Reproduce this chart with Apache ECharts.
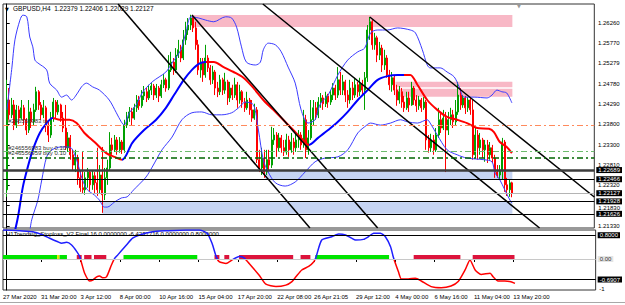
<!DOCTYPE html>
<html><head><meta charset="utf-8">
<script src="https://cdn.jsdelivr.net/npm/echarts@6/dist/echarts.min.js"></script>
<style>html,body{margin:0;padding:0;background:#fff}#c{width:625px;height:305px}</style>
</head><body><div id="c"></div>
<script>
// ---------------- DATA ----------------
const firstOpen = 1.2221;
const closes = [1.2439,1.2403,1.2427,1.2378,1.2415,1.2395,1.2420,1.2391,1.2366,1.2410,
1.2386,1.2415,1.2459,1.2427,1.2403,1.2420,1.2378,1.2354,1.2395,1.2434,
1.2410,1.2427,1.2395,1.2371,1.2323,1.2347,1.2306,1.2281,1.2298,1.2250,
1.2226,1.2221,1.2250,1.2264,1.2233,1.2255,1.2238,1.2221,1.2257,1.2209,
1.2250,1.2274,1.2330,1.2318,1.2342,1.2318,1.2337,1.2318,1.2378,1.2395,
1.2410,1.2395,1.2420,1.2439,1.2425,1.2449,1.2459,1.2444,1.2463,1.2473,
1.2451,1.2468,1.2449,1.2476,1.2488,1.2468,1.2512,1.2531,1.2512,1.2548,
1.2561,1.2541,1.2585,1.2609,1.2621,1.2638,1.2614,1.2573,1.2512,1.2531,
1.2500,1.2541,1.2517,1.2488,1.2507,1.2468,1.2459,1.2488,1.2463,1.2483,
1.2444,1.2468,1.2451,1.2476,1.2439,1.2459,1.2434,1.2420,1.2439,1.2415,
1.2395,1.2415,1.2294,1.2274,1.2298,1.2264,1.2294,1.2281,1.2342,1.2354,
1.2323,1.2347,1.2323,1.2313,1.2342,1.2318,1.2337,1.2323,1.2342,1.2354,
1.2330,1.2391,1.2318,1.2347,1.2391,1.2420,1.2403,1.2434,1.2444,1.2430,
1.2449,1.2434,1.2451,1.2468,1.2451,1.2488,1.2463,1.2483,1.2451,1.2439,
1.2468,1.2451,1.2476,1.2459,1.2478,1.2463,1.2493,1.2609,1.2629,1.2573,
1.2590,1.2548,1.2565,1.2524,1.2541,1.2500,1.2476,1.2493,1.2463,1.2439,
1.2459,1.2434,1.2420,1.2444,1.2427,1.2468,1.2439,1.2425,1.2439,1.2420,
1.2434,1.2342,1.2323,1.2342,1.2318,1.2354,1.2391,1.2371,1.2395,1.2366,
1.2391,1.2403,1.2386,1.2410,1.2451,1.2427,1.2444,1.2420,1.2439,1.2415,
1.2306,1.2354,1.2323,1.2342,1.2318,1.2330,1.2306,1.2323,1.2298,1.2264,
1.2257,1.2269,1.2337,1.2233,1.2221,1.22379,1.22127];
const highs = [1.2488,1.2468,1.2444,1.2439,1.2427,1.2425,1.2439,1.2427,1.2395,1.2439,
1.2420,1.2430,1.2471,1.2463,1.2434,1.2439,1.2425,1.2386,1.2410,1.2444,
1.2439,1.2439,1.2430,1.2410,1.2427,1.2361,1.2354,1.2318,1.2318,1.2306,
1.2269,1.2313,1.2264,1.2274,1.2269,1.2269,1.2264,1.2323,1.2281,1.2325,
1.2274,1.2294,1.2361,1.2347,1.2354,1.2349,1.2349,1.2342,1.2391,1.2410,
1.2422,1.2420,1.2430,1.2451,1.2449,1.2463,1.2473,1.2468,1.2476,1.2480,
1.2478,1.2478,1.2473,1.2488,1.2502,1.2493,1.2548,1.2556,1.2541,1.2565,
1.2585,1.2573,1.2609,1.2629,1.2638,1.2646,1.2641,1.2629,1.2585,1.2541,
1.2541,1.2573,1.2548,1.2524,1.2522,1.2512,1.2483,1.2500,1.2493,1.2505,
1.2488,1.2483,1.2476,1.2493,1.2483,1.2476,1.2463,1.2444,1.2459,1.2444,
1.2439,1.2430,1.2422,1.2318,1.2323,1.2318,1.2318,1.2318,1.2374,1.2371,
1.2361,1.2359,1.2354,1.2342,1.2357,1.2352,1.2359,1.2347,1.2361,1.2366,
1.2361,1.2415,1.2403,1.2366,1.2439,1.2439,1.2434,1.2446,1.2456,1.2451,
1.2459,1.2454,1.2463,1.2480,1.2476,1.2519,1.2507,1.2500,1.2488,1.2463,
1.2488,1.2483,1.2493,1.2483,1.2493,1.2488,1.2507,1.2621,1.2641,1.2633,
1.2602,1.2595,1.2580,1.2573,1.2561,1.2548,1.2512,1.2507,1.2500,1.2476,
1.2473,1.2468,1.2449,1.2459,1.2459,1.2483,1.2473,1.2451,1.2449,1.2444,
1.2446,1.2439,1.2354,1.2357,1.2354,1.2371,1.2420,1.2410,1.2415,1.2410,
1.2410,1.2420,1.2415,1.2439,1.2483,1.2468,1.2451,1.2449,1.2446,1.2444,
1.2439,1.2374,1.2366,1.2359,1.2347,1.2342,1.2342,1.2337,1.2330,1.2306,
1.2281,1.2281,1.2347,1.2342,1.2250,1.2245,1.22406];
const lows = [1.2204,1.2391,1.2395,1.2366,1.2371,1.2381,1.2391,1.2378,1.2354,1.2359,
1.2371,1.2376,1.2410,1.2415,1.2391,1.2395,1.2361,1.2337,1.2347,1.2386,
1.2395,1.2403,1.2386,1.2361,1.2318,1.2313,1.2294,1.2269,1.2264,1.2233,
1.2216,1.2211,1.2209,1.2226,1.2216,1.2221,1.2213,1.2206,1.2211,1.2165,
1.2196,1.2233,1.2269,1.2306,1.2313,1.2306,1.2311,1.2308,1.2311,1.2371,
1.2386,1.2378,1.2391,1.2410,1.2415,1.2420,1.2439,1.2434,1.2439,1.2451,
1.2439,1.2444,1.2434,1.2444,1.2468,1.2459,1.2463,1.2507,1.2500,1.2505,
1.2541,1.2531,1.2536,1.2573,1.2597,1.2609,1.2604,1.2561,1.2500,1.2493,
1.2483,1.2493,1.2507,1.2476,1.2478,1.2451,1.2446,1.2451,1.2451,1.2454,
1.2427,1.2434,1.2439,1.2444,1.2420,1.2430,1.2420,1.2410,1.2415,1.2403,
1.2386,1.2391,1.2286,1.2264,1.2257,1.2250,1.2257,1.2269,1.2274,1.2330,
1.2301,1.2313,1.2311,1.2303,1.2306,1.2301,1.2311,1.2306,1.2313,1.2323,
1.2318,1.2323,1.2298,1.2306,1.2342,1.2378,1.2391,1.2395,1.2420,1.2415,
1.2422,1.2420,1.2427,1.2439,1.2439,1.2444,1.2451,1.2451,1.2434,1.2420,
1.2430,1.2439,1.2444,1.2446,1.2449,1.2449,1.2415,1.2483,1.2585,1.2561,
1.2561,1.2531,1.2536,1.2507,1.2512,1.2493,1.2463,1.2459,1.2451,1.2425,
1.2430,1.2420,1.2410,1.2415,1.2410,1.2425,1.2427,1.2410,1.2415,1.2410,
1.2415,1.2318,1.2311,1.2313,1.2306,1.2313,1.2347,1.2359,1.2366,1.2264,
1.2354,1.2378,1.2371,1.2378,1.2403,1.2415,1.2420,1.2405,1.2410,1.2403,
1.2294,1.2298,1.2294,1.2306,1.2298,1.2289,1.2286,1.2294,1.2286,1.2250,
1.2250,1.2245,1.2245,1.2216,1.2206,1.2204,1.22029];

// Bollinger bands (thin blue) and colour-changing MA, [bar, price]
const upperBand = [[0.1,1.2415],[2.15,1.2519],[3.36,1.2585],[5.4,1.2633],[6.6,1.2645],[8.2,1.2641],[9.4,1.2592],[10.65,1.2568],[11.5,1.2536],[12.7,1.2529],[16.3,1.2512],[17.5,1.2480],[20.4,1.2463],[22.4,1.2446],[24.4,1.2451],[26.4,1.2439],[28.9,1.2456],[30.5,1.2471],[32.5,1.2480],[35.0,1.2471],[37.8,1.2463],[41.8,1.2439],[44.7,1.2408],[46.7,1.2386],[47.9,1.2378],[50.0,1.2408],[52.8,1.2427],[55.2,1.2456],[59.3,1.2483],[64.9,1.2507],[67.4,1.2529],[71.0,1.2561],[73.0,1.2602],[75.1,1.2641],[78.3,1.2638],[81.1,1.2633],[84.4,1.2629],[89.2,1.2641],[91.7,1.2638],[93.7,1.2616],[95.7,1.2568],[97.7,1.2531],[101.4,1.2524],[103.4,1.2531],[104.6,1.2561],[106.6,1.2577],[109.5,1.2573],[111.9,1.2556],[114.7,1.2519],[117.6,1.2480],[120.0,1.2415],[122.8,1.2383],[125.7,1.2391],[126.9,1.2415],[128.1,1.2432],[131.0,1.2451],[135.0,1.2500],[139.0,1.2536],[143.1,1.2556],[145.9,1.2565],[148.3,1.2602],[151.2,1.2609],[155.2,1.2609],[159.3,1.2614],[164.5,1.2609],[166.6,1.2602],[169.4,1.2561],[171.4,1.2524],[172.6,1.2517],[176.7,1.2517],[179.5,1.2507],[182.4,1.2495],[184.4,1.2471],[186.4,1.2446],[190.5,1.2446],[195.8,1.2444],[197.8,1.2451],[199.8,1.2463],[201.8,1.2459],[203.8,1.2456],[205.9,1.2432]];
const lowerBand = [[9.4,1.2119],[10.2,1.2148],[12.7,1.2196],[14.3,1.2245],[16.3,1.2301],[18.5,1.2318],[22.2,1.2325],[24.2,1.2325],[26.2,1.2323],[27.5,1.2310],[28.9,1.2286],[30.9,1.2245],[32.9,1.2221],[35.8,1.2208],[37.8,1.2196],[39.8,1.2179],[41.0,1.2179],[43.9,1.2191],[46.7,1.2201],[49.1,1.2204],[51.8,1.2221],[53.8,1.2233],[56.8,1.2252],[59.3,1.2276],[63.3,1.2318],[67.4,1.2349],[71.4,1.2391],[75.5,1.2408],[79.5,1.2410],[83.6,1.2403],[87.6,1.2403],[91.7,1.2408],[94.5,1.2420],[97.3,1.2434],[100.6,1.2427],[102.6,1.2366],[104.6,1.2293],[106.6,1.2264],[109.5,1.2238],[113.5,1.2230],[117.6,1.2240],[121.6,1.2264],[125.7,1.2289],[129.7,1.2298],[135.0,1.2301],[139.0,1.2318],[143.1,1.2359],[145.9,1.2374],[148.3,1.2383],[152.3,1.2378],[156.4,1.2383],[160.5,1.2391],[163.3,1.2386],[167.4,1.2383],[171.4,1.2391],[172.6,1.2383],[175.5,1.2354],[179.5,1.2318],[183.6,1.2306],[187.6,1.2298],[194.5,1.2294],[197.8,1.2289],[199.0,1.2262],[201.0,1.2245],[203.0,1.2221],[205.1,1.2196],[205.9,1.2189]];
const trendMA = [[2.96,1.2111],[4.6,1.2155],[6.6,1.2228],[8.6,1.2276],[10.65,1.2318],[13.5,1.2359],[16.3,1.2383],[18.75,1.2395],[21.6,1.2391],[25.6,1.2391],[28.5,1.2383],[31.7,1.2359],[35.8,1.2337],[40.6,1.2310],[43.9,1.2301],[47.1,1.2294],[51.2,1.2335],[56.0,1.2366],[60.9,1.2391],[64.9,1.2420],[68.2,1.2451],[72.2,1.2488],[75.5,1.2512],[78.3,1.2527],[81.1,1.2531],[84.4,1.2531],[88.4,1.2519],[92.5,1.2507],[96.5,1.2493],[100.6,1.2468],[104.6,1.2439],[108.7,1.2415],[112.7,1.2391],[116.8,1.2366],[120.8,1.2342],[123.2,1.2330],[126.9,1.2347],[131.0,1.2366],[135.0,1.2386],[139.0,1.2410],[143.1,1.2439],[147.1,1.2463],[151.2,1.2488],[155.2,1.2497],[159.3,1.2500],[162.1,1.2500],[164.5,1.2500],[167.4,1.2476],[171.4,1.2439],[175.5,1.2415],[179.5,1.2398],[183.6,1.2391],[187.6,1.2383],[191.7,1.2371],[196.6,1.2369],[198.6,1.2361],[201.0,1.2337],[203.8,1.2325],[205.9,1.2310]];
const maTurns = [18.75, 47.1, 81.1, 123.2, 162.1]; // rising (blue) / falling (red) switches

// drawn objects, [bar, price]
const trendLines = [
  [[45.4,1.26721],[123.6,1.21282]],
  [[75.5,1.26454],[151.2,1.21282]],
  [[104.4,1.26721],[217.2,1.21282]],
  [[148.0,1.26406],[239.5,1.22035]]
];
const supplyZones = [
  [[75.5,1.26454],[206.1,1.26163]],
  [[158.5,1.24835],[206.1,1.24699]],
  [[158.5,1.24665],[206.1,1.24470]]
];
const demandZones = [
  [[105.4,1.22689],[206.1,1.22466]],
  [[39.0,1.21928],[206.1,1.21626]]
];
const levelPrices = [1.22689, 1.22466, 1.22127, 1.21928, 1.21626];
const orderPrices = [1.23771, 1.23135, 1.22999];
const orderLabels = ['#246556983 tp', '#246556983 buy 0.10', '#246556959 buy 0.10'];
const priceTicks = [1.26260, 1.25770, 1.25279, 1.24780, 1.24290, 1.23800, 1.23300, 1.22810, 1.22320, 1.21830, 1.21330];
const timeTickBars = [-1.5, 14, 30, 46, 62, 78, 94, 110, 125, 142, 158, 174, 190, 206];
const timeLabels = ['27 Mar 2020','31 Mar 20:00','3 Apr 12:00','8 Apr 00:00','10 Apr 16:00','15 Apr 04:00','17 Apr 20:00','22 Apr 08:00','26 Apr 21:05','29 Apr 12:00','4 May 00:00','6 May 16:00','11 May 04:00','13 May 20:00'];
const titleText = 'GBPUSD,H4  1.22379 1.22406 1.22029 1.22127';

// lower indicator
const indicator = [[-1.5,0.98],[5.4,0.95],[10.65,0.92],[14.7,0.81],[17.5,0.70],[20.8,0.58],[22.4,0.53],[24.4,0.56],[26.4,0.47],[28.5,0.25],[29.7,0.08],[30.5,-0.15],[31.7,-0.48],[33.7,-0.74],[35.0,-0.71],[36.6,-0.60],[37.8,-0.57],[39.0,-0.63],[40.6,-0.60],[42.6,-0.20],[43.9,0.02],[45.1,0.13],[48.7,0.47],[51.2,0.70],[54.0,0.81],[59.3,0.92],[64.9,0.95],[73.0,0.98],[78.3,0.98],[81.5,0.87],[83.5,0.53],[85.2,0.08],[86.4,-0.09],[89.2,-0.15],[91.7,-0.03],[94.5,0.08],[96.5,0.04],[98.6,-0.15],[102.6,-0.54],[105.4,-0.85],[109.5,-0.93],[113.5,-0.88],[116.0,-0.76],[117.6,-0.60],[120.0,-0.37],[122.8,-0.25],[124.9,-0.09],[125.7,0.04],[128.1,0.64],[132.2,0.75],[135.0,0.84],[137.8,0.81],[140.3,0.70],[141.9,0.64],[145.1,0.66],[147.1,0.75],[149.2,0.87],[152.0,0.87],[154.0,0.75],[156.1,0.41],[157.3,0.04],[159.3,-0.43],[160.5,-0.67],[163.3,-0.67],[166.2,-0.65],[168.6,-0.74],[172.6,-0.93],[176.7,-0.97],[180.7,-0.91],[183.6,-0.76],[186.4,-0.37],[188.4,-0.03],[190.5,-0.37],[192.9,-0.52],[196.6,-0.48],[197.8,-0.60],[199.8,-0.74],[202.6,-0.74],[204.6,-0.76],[206.7,-0.82]];
const stateBars = [[-1,20,1],[21,21,2],[22,24,1],[29,30,-1],[32,34,-1],[36,40,-1],[48,77,1],[85,86,-1],[89,90,-1],[95,116,-1],[120,123,-1],[126,155,1],[166,184,-1],[190,206,-1]];
const indLevels = [0.8, 0, -0.6907];
const indAxisValues = [0.8, 0, -0.6907, -1];
const indAxisLabels = ['0.8000', '0.00', '-0.6907', '-1'];
const indTitle = 'H1Trendsig_Stoploss_V2 Final 16 0.0000000 -6.4237716 0.0000000 0.8000000';

// ---------------- CHART ----------------
const FONT = 'Liberation Sans';
const candleData = closes.map((c, i) => [i, i === 0 ? firstOpen : closes[i - 1], c, lows[i], highs[i]]);

const BLUE = '#0000ff', RED = '#ff0000';
const maPieces = [];
maTurns.forEach((t, k) => {
  const col = k % 2 === 0 ? BLUE : RED;
  if (k === 0) maPieces.push({lt: t, color: col});
  else maPieces.push({gte: maTurns[k - 1], lt: t, color: col});
});
maPieces.push({gte: maTurns[maTurns.length - 1], color: maTurns.length % 2 === 0 ? BLUE : RED});

const levelStyles = [
  {color: '#3c3c3c', width: 2.5, type: 'solid'},
  {color: '#000', width: 1, type: 'solid'},
  {color: '#b4b4b4', width: 1, type: 'solid'},
  {color: '#000', width: 1, type: 'solid'},
  {color: '#000', width: 1, type: 'solid'}
];
const orderStyles = [
  {color: '#ff8a5c', width: 1, type: [6, 3, 2, 3]},
  {color: '#6dbb6d', width: 1, type: [6, 3, 2, 3]},
  {color: '#006400', width: 1.5, type: [6, 3, 2, 3]}
];
const indLevelStyles = [
  {color: '#000', width: 1, type: 'solid'},
  {color: '#c8c8c8', width: 1, type: 'solid'},
  {color: '#000', width: 1, type: 'solid'}
];
const stateColors = {'1': '#00e400', '-1': '#dc143c', '2': '#e6e600'};

const series = [];
// zones + level lines (background)
series.push({
  type: 'line', xAxisIndex: 0, yAxisIndex: 0, data: [], z: 1, silent: true,
  markArea: {
    silent: true,
    data: supplyZones.map(z => [{coord: z[0], itemStyle: {color: '#f8b8c6'}}, {coord: z[1]}])
      .concat(demandZones.map(z => [{coord: z[0], itemStyle: {color: '#c6d4f3'}}, {coord: z[1]}]))
  },
  markLine: {
    silent: true, symbol: 'none', animation: false, precision: 6,
    data: levelPrices.map((p, k) => ({yAxis: p, lineStyle: levelStyles[k], label: {show: false}}))
      .concat(orderPrices.map((p, k) => ({
        yAxis: p, lineStyle: orderStyles[k],
        label: {show: true, position: 'insideStartTop', formatter: orderLabels[k], fontSize: 6, fontFamily: FONT, color: '#333', distance: [5, 1]}
      })))
  }
});
// candles
series.push({
  type: 'candlestick', xAxisIndex: 0, yAxisIndex: 0, z: 2, barWidth: 1.5,
  data: candleData, encode: {x: 0, y: [1, 2, 3, 4]},
  itemStyle: {color: '#00a000', color0: '#ff0000', borderColor: '#00a000', borderColor0: '#ff0000', borderWidth: 1}
});
// bands
[upperBand, lowerBand].forEach(b => series.push({
  type: 'line', xAxisIndex: 0, yAxisIndex: 0, z: 3, data: b, showSymbol: false, smooth: 0.3,
  lineStyle: {color: '#3b3bff', width: 1}
}));
const maIndex = series.length;
series.push({
  type: 'line', xAxisIndex: 0, yAxisIndex: 0, z: 3, data: trendMA, showSymbol: false, smooth: 0.3,
  lineStyle: {width: 2}
});
trendLines.forEach(t => series.push({
  type: 'line', xAxisIndex: 0, yAxisIndex: 0, z: 4, data: t, showSymbol: false,
  lineStyle: {color: '#000', width: 1.5}
}));
// lower panel
series.push({
  type: 'line', xAxisIndex: 1, yAxisIndex: 1, data: [], z: 1, silent: true,
  markLine: {
    silent: true, symbol: 'none', animation: false, precision: 6,
    data: indLevels.map((v, k) => ({yAxis: v, lineStyle: indLevelStyles[k], label: {show: false}}))
  }
});
series.push({
  type: 'custom', xAxisIndex: 1, yAxisIndex: 1, z: 2, data: stateBars, encode: {x: [0, 1]},
  renderItem: (params, api) => {
    const a = api.coord([api.value(0) - 0.5, 0]);
    const b = api.coord([api.value(1) + 0.5, 0]);
    return {type: 'rect', shape: {x: a[0], y: a[1] - 4, width: b[0] - a[0], height: 5},
      style: {fill: stateColors[String(api.value(2))]}};
  }
});
const indIndex = series.length;
series.push({
  type: 'line', xAxisIndex: 1, yAxisIndex: 1, z: 3, data: indicator, showSymbol: false, smooth: 0.2,
  lineStyle: {width: 1.5}
});

const near = (arr, v) => arr.findIndex(a => Math.abs(a - v) < 1e-6);

const option = {
  animation: false,
  textStyle: {fontFamily: FONT},
  grid: [
    {left: 3, top: 4, width: 595, height: 224, show: true, borderColor: '#333', borderWidth: 1, backgroundColor: 'transparent'},
    {left: 3, top: 230, width: 595, height: 60, show: true, borderColor: '#333', borderWidth: 1, backgroundColor: 'transparent'}
  ],
  xAxis: [
    {type: 'value', gridIndex: 0, min: -1.5, max: 239.5, show: false},
    {type: 'value', gridIndex: 1, min: -1.5, max: 239.5,
      axisLine: {show: false}, splitLine: {show: false},
      axisTick: {show: true, customValues: timeTickBars.slice(1), length: 3, lineStyle: {color: '#000'}},
      axisLabel: {customValues: timeTickBars, fontSize: 6, color: '#000', align: 'left', margin: 4,
        formatter: v => { const k = near(timeTickBars, v); return k >= 0 ? timeLabels[k] : ''; }}
    }
  ],
  yAxis: [
    {type: 'value', gridIndex: 0, position: 'right', min: 1.21282, max: 1.26721, scale: true,
      splitLine: {show: false},
      axisLine: {show: true, lineStyle: {color: '#000'}},
      axisTick: {show: true, customValues: priceTicks, length: 3, lineStyle: {color: '#000'}},
      axisLabel: {customValues: priceTicks.concat(levelPrices), fontSize: 6, color: '#000', margin: 2,
        formatter: v => near(levelPrices, v) >= 0 ? '{b|' + v.toFixed(5) + '}' : (Math.abs(v - 1.2183) < 1e-6 ? '{d|' + v.toFixed(5) + '}' : ' ' + v.toFixed(5)),
        rich: {b: {backgroundColor: '#000', color: '#fff', fontSize: 6, padding: [0, 2, 0, 2], lineHeight: 7, fontFamily: FONT},
               d: {fontSize: 6, color: '#000', padding: [5, 0, 0, 2], fontFamily: FONT}}
      }
    },
    {type: 'value', gridIndex: 1, position: 'right', min: -1.044, max: 0.976,
      splitLine: {show: false},
      axisLine: {show: true, lineStyle: {color: '#000'}},
      axisTick: {show: false},
      axisLabel: {customValues: indAxisValues, fontSize: 6, color: '#000', margin: 2,
        formatter: v => { const k = near(indAxisValues, v); const s = indAxisLabels[k];
          return (k === 0 || k === 2) ? '{b|' + s + '}' : (k === 1 ? '{g|' + s + '}' : ' ' + s); },
        rich: {b: {backgroundColor: '#000', color: '#fff', fontSize: 6, padding: [0, 2, 0, 2], lineHeight: 7, fontFamily: FONT},
               g: {backgroundColor: '#e4e4e4', color: '#333', fontSize: 6, padding: [0, 2, 0, 2], lineHeight: 7, fontFamily: FONT}}
      }
    }
  ],
  visualMap: [
    {type: 'piecewise', show: false, seriesIndex: maIndex, dimension: 0, pieces: maPieces},
    {type: 'piecewise', show: false, seriesIndex: indIndex, dimension: 1,
      pieces: [{gt: 0, lte: 2, color: '#1e1eff'}, {gte: -2, lte: 0, color: '#ff0000'}]}
  ],
  graphic: [
    {type: 'text', left: 5, top: 6, silent: true, style: {text: '▼', fontSize: 5, fill: '#000', fontFamily: 'DejaVu Sans'}},
    {type: 'text', left: 13, top: 5, silent: true, style: {text: titleText, fontSize: 6.5, fill: '#000', fontFamily: FONT}},
    {type: 'text', left: 517, top: 3, silent: true, style: {text: '▼', fontSize: 5, fill: '#999', fontFamily: 'DejaVu Sans'}},
    {type: 'text', left: 6, top: 231, silent: true, style: {text: indTitle, fontSize: 6, fill: '#000', fontFamily: FONT}},
    {type: 'line', silent: true, shape: {x1: 0, y1: 302.5, x2: 625, y2: 302.5}, style: {stroke: '#a8a8a8', lineWidth: 1}}
  ],
  series: series
};

const chart = echarts.init(document.getElementById('c'), null, {renderer: 'svg'});
chart.setOption(option);
</script>
</body></html>
